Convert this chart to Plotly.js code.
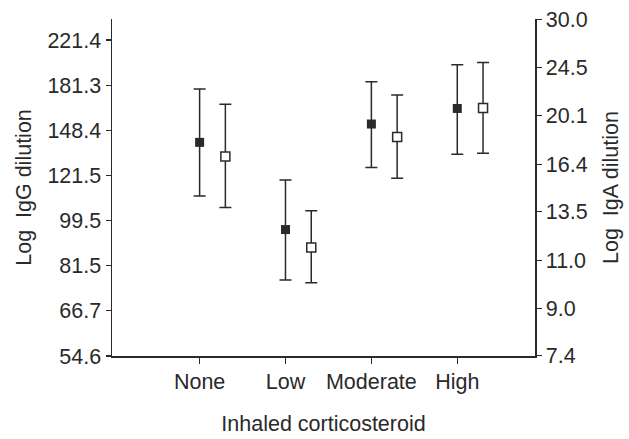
<!DOCTYPE html>
<html>
<head>
<meta charset="utf-8">
<script src="https://cdn.plot.ly/plotly-3.0.1.min.js"></script>
<style>html,body{margin:0;padding:0;background:#fff;}#chart{width:629px;height:439px;}</style>
</head>
<body>
<div id="chart"></div>
<script>
// Categories
const categories = ["None", "Low", "Moderate", "High"];
// IgG (filled squares, left axis), dilution values
const iggMean  = [140.7, 95.6, 152.6, 163.5];
const iggUpper = [178.2, 119.1, 184.1, 198.4];
const iggLower = [110.9, 76.5, 125.8, 133.5];
// IgA (open squares, right axis), dilution values
const igaMean  = [16.95, 11.60, 18.38, 20.74];
const igaUpper = [21.05, 13.52, 21.89, 25.05];
const igaLower = [13.71, 10.02, 15.47, 17.17];
// Tick labels
const iggTicks = [54.6, 66.7, 81.5, 99.5, 121.5, 148.4, 181.3, 221.4];
const igaTicks = [7.4, 9.0, 11.0, 13.5, 16.4, 20.1, 24.5, 30.0];

const font = "'Liberation Sans', Arial, sans-serif";
const fs = 21.5;
const ink = "#2a2a2a";
const catPos = categories.map((c, i) => i);
const igaOffset = 0.30;

const traceIgG = {
  type: "scatter", mode: "markers",
  x: catPos, y: iggMean, yaxis: "y",
  marker: {symbol: "square", size: 9, color: ink, line: {width: 0}},
  error_y: {type: "data", symmetric: false,
    array: iggMean.map((m, i) => iggUpper[i] - m),
    arrayminus: iggMean.map((m, i) => m - iggLower[i]),
    color: ink, thickness: 1.5, width: 6},
  showlegend: false, hoverinfo: "skip"
};
const traceIgA = {
  type: "scatter", mode: "markers",
  x: catPos.map(p => p + igaOffset), y: igaMean, yaxis: "y2",
  marker: {symbol: "square", size: 9, color: "#ffffff", line: {width: 1.5, color: ink}},
  error_y: {type: "data", symmetric: false,
    array: igaMean.map((m, i) => igaUpper[i] - m),
    arrayminus: igaMean.map((m, i) => m - igaLower[i]),
    color: ink, thickness: 1.5, width: 6},
  showlegend: false, hoverinfo: "skip"
};

const layout = {
  width: 629, height: 439,
  margin: {l: 112, r: 94, t: 19, b: 83, pad: 0},
  paper_bgcolor: "#ffffff", plot_bgcolor: "#ffffff",
  font: {family: font, size: fs, color: ink},
  xaxis: {
    range: [-1.02, 3.905], showgrid: false, zeroline: false,
    showline: true, linecolor: ink, linewidth: 1.5,
    ticks: "outside", ticklen: 6, tickwidth: 1.2, tickcolor: ink,
    tickvals: catPos, ticktext: categories,
    tickfont: {family: font, size: fs, color: ink},
    title: {text: "Inhaled corticosteroid", font: {family: font, size: fs, color: ink}, standoff: 22}
  },
  yaxis: {
    type: "log",
    range: [4 / Math.LN10, 5.4932 / Math.LN10],
    showgrid: false, zeroline: false,
    showline: true, linecolor: ink, linewidth: 1.5,
    ticks: "outside", ticklen: 5, tickwidth: 1.2, tickcolor: ink,
    tickvals: iggTicks, ticktext: iggTicks.map(v => v.toFixed(1)),
    tickfont: {family: font, size: fs, color: ink},
    title: {text: "Log  IgG dilution", font: {family: font, size: fs, color: ink}, standoff: 10}
  },
  yaxis2: {
    type: "log", overlaying: "y", side: "right", anchor: "x",
    range: [2 / Math.LN10, Math.log10(30.02)],
    showgrid: false, zeroline: false,
    showline: true, linecolor: ink, linewidth: 1.5,
    ticks: "outside", ticklen: 5, tickwidth: 1.2, tickcolor: ink,
    tickvals: igaTicks, ticktext: igaTicks.map(v => v.toFixed(1)),
    tickfont: {family: font, size: fs, color: ink},
    title: {text: "Log  IgA dilution", font: {family: font, size: fs, color: ink}, standoff: 16}
  }
};

Plotly.newPlot("chart", [traceIgG, traceIgA], layout, {staticPlot: true, displayModeBar: false});
</script>
</body>
</html>
